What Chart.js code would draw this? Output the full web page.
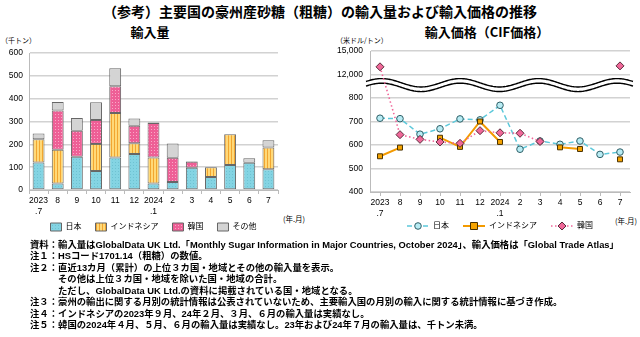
<!DOCTYPE html>
<html lang="ja">
<head>
<meta charset="utf-8">
<script src="https://cdn.jsdelivr.net/npm/chart.js@4.4.1/dist/chart.umd.min.js"></script>
<style>
  body { margin: 0; width: 640px; height: 337px; background: #fff; position: relative; overflow: hidden;
         font-family: "Noto Sans CJK JP", sans-serif; color: #000; }
  .abs { position: absolute; white-space: nowrap; }
  #title { top: 1px; left: 0; width: 640px; text-align: center; font-size: 14px; font-weight: bold; }
  .sub { top: 22px; font-size: 13px; font-weight: bold; text-align: center; }
  .unit { font-size: 7px; top: 35px; }
  .ym { font-size: 7.5px; }
  canvas { position: absolute; top: 38px; }
  .note { left: 30px; font-size: 9.35px; font-weight: bold; line-height: 12px;
          font-family: "Liberation Sans", "Noto Sans CJK JP", sans-serif; }
</style>
</head>
<body>
<div id="title" class="abs">（参考）主要国の豪州産砂糖（粗糖）の輸入量および輸入価格の推移</div>
<div class="abs sub" style="left:100px;width:100px;">輸入量</div>
<div class="abs sub" style="left:407px;width:160px;">輸入価格（CIF価格）</div>
<div class="abs unit" style="left:1px;">（千トン）</div>
<div class="abs unit" style="left:336px;">（米ドル/トン）</div>
<div class="abs ym" style="left:283px;top:213px;">(年.月)</div>
<div class="abs ym" style="left:615px;top:215px;">(年.月)</div>

<canvas id="volChart" width="320" height="203" style="left:0;"></canvas>
<canvas id="priceChart" width="320" height="202" style="left:320px;"></canvas>

<div class="abs note" style="top:238.5px;">資料：輸入量はGlobalData UK Ltd.「Monthly Sugar Information in Major Countries, October 2024」、輸入価格は「Global Trade Atlas」</div>
<div class="abs note" style="top:250px;">注１：HSコード1701.14（粗糖）の数値。</div>
<div class="abs note" style="top:261.5px;">注２：直近13カ月（累計）の上位３カ国・地域とその他の輸入量を表示。</div>
<div class="abs note" style="top:273px;left:58px;">その他は上位３カ国・地域を除いた国・地域の合計。</div>
<div class="abs note" style="top:284.5px;left:58px;">ただし、GlobalData UK Ltd.の資料に掲載されている国・地域となる。</div>
<div class="abs note" style="top:296px;">注３：豪州の輸出に関する月別の統計情報は公表されていないため、主要輸入国の月別の輸入に関する統計情報に基づき作成。</div>
<div class="abs note" style="top:307.5px;">注４：インドネシアの2023年９月、24年２月、３月、６月の輸入量は実績なし。</div>
<div class="abs note" style="top:319px;">注５：韓国の2024年４月、５月、６月の輸入量は実績なし。23年および24年７月の輸入量は、千トン未満。</div>

<script>
// months, 2023.7 - 2024.7
const months = [["2023", ".7"], "8", "9", "10", "11", "12", ["2024", ".1"], "2", "3", "4", "5", "6", "7"];

// import volume (thousand tonnes)
const volJapan = [120, 29, 146, 83, 142, 158, 28, 35, 97, 57, 110, 119, 91];
const volIndonesia = [102, 147, null, 119, 195, 47, 114, null, null, 43, 134, null, 95];
const volKorea = [null, 172, 114, 105, 117, 76, 151, 106, 27, null, null, null, null];
const volOther = [25, 37, 55, 77, 79, 32, 3, 63, 2, null, null, 20, 32];

// import price CIF (USD / tonne)
const priceJapan = [714, 712, 646, 669, 711, 707, 769, 582, 617, 603, 617, 560, 570];
const priceIndonesia = [552, 589, null, 631, 592, 700, 613, null, null, 590, 583, null, 539];
const priceKorea = [12980, 644, 624, 613, 607, 661, 652, 650, 615, null, null, null, 13100];

// broken price axis: tick values are spaced evenly
const priceTicks = [400, 500, 600, 700, 800, 12000, 15000];
const priceTickLabels = ["400", "500", "600", "700", "800", "12,000", "15,000"];

Chart.defaults.font.family = '"Liberation Sans", "Noto Sans CJK JP", sans-serif';
Chart.defaults.color = "#000";

// the x axes are kept short so the legend sits close; let the
// two-line month labels spill below the axis box
Chart.register({
  id: "unclipTicks",
  afterLayout(chart) {
    for (const s of Object.values(chart.scales)) s._computeLabelArea = () => undefined;
  },
});

function priceToAxis(v) {
  if (v == null) return null;
  for (let i = 0; i < priceTicks.length - 1; i++) {
    if (v <= priceTicks[i + 1]) return i + (v - priceTicks[i]) / (priceTicks[i + 1] - priceTicks[i]);
  }
  return priceTicks.length - 1;
}

function pattern(bg, fg, kind) {
  const c = document.createElement("canvas");
  c.width = 3; c.height = 3;
  const g = c.getContext("2d");
  g.fillStyle = bg;
  g.fillRect(0, 0, 3, 3);
  g.fillStyle = fg;
  if (kind === "stripe") g.fillRect(0, 0, 1, 3);
  if (kind === "dot") g.fillRect(1, 1, 1, 1);
  return g.createPattern(c, "repeat");
}

const fillJapan = pattern("#84D4E3", "#6EC2D2", "dot");
const fillIndonesia = pattern("#FFD978", "#F2A630", "stripe");
const fillKorea = pattern("#EE5F96", "#F9A9C8", "dot");
const fillOther = "#D4D4D4";

new Chart(document.getElementById("volChart"), {
  type: "bar",
  data: {
    labels: months,
    datasets: [
      { label: "日本", data: volJapan, backgroundColor: fillJapan },
      { label: "インドネシア", data: volIndonesia, backgroundColor: fillIndonesia },
      { label: "韓国", data: volKorea, backgroundColor: fillKorea },
      { label: "その他", data: volOther, backgroundColor: fillOther },
    ],
  },
  options: {
    responsive: false,
    animation: false,
    layout: { padding: { top: 15, right: 42, left: 0, bottom: 0 } },
    datasets: {
      bar: { borderColor: "#666", borderWidth: 1, borderSkipped: false, categoryPercentage: 0.62, barPercentage: 1 },
    },
    scales: {
      x: {
        stacked: true,
        grid: { drawOnChartArea: false, tickLength: 4, color: "#bbb" },
        border: { color: "#bbb" },
        ticks: { font: { size: 8.5 }, maxRotation: 0, autoSkip: false, padding: 2 },
        afterFit(s) { s.height = 19; },
      },
      y: {
        stacked: true,
        min: 0,
        max: 600,
        ticks: { stepSize: 100, font: { size: 8.5 }, padding: 6 },
        grid: { color: "#d2d2d2", lineWidth: 1.5, drawTicks: false },
        border: { color: "#bbb" },
        afterFit(s) { s.width = 29; },
      },
    },
    plugins: {
      legend: {
        position: "bottom",
        fullSize: false,
        labels: { boxWidth: 11, boxHeight: 8, font: { size: 8 }, padding: 14 },
      },
      tooltip: { enabled: false },
    },
  },
});

// double wavy line marking the break between 800 and 12,000
const breakMark = {
  id: "breakMark",
  beforeDatasetsDraw(chart) {
    const { ctx, chartArea, scales } = chart;
    const yc = scales.y.getPixelForValue(4.55);
    const x0 = chartArea.left - 4, x1 = chartArea.right + 3;
    const period = 78.5, amp = 4.2, gap = 4.6, phase = chartArea.left + 11.7;
    const waveY = (x, off) => yc + off - amp * Math.cos(2 * Math.PI * (x - phase) / period);
    ctx.save();
    ctx.beginPath();
    for (let x = x0; x <= x1; x++) ctx.lineTo(x, waveY(x, -gap / 2));
    for (let x = x1; x >= x0; x--) ctx.lineTo(x, waveY(x, gap / 2));
    ctx.closePath();
    ctx.fillStyle = "#fff";
    ctx.fill();
    ctx.strokeStyle = "#000";
    ctx.lineWidth = 1.4;
    for (const off of [-gap / 2, gap / 2]) {
      ctx.beginPath();
      for (let x = x0; x <= x1; x++) ctx.lineTo(x, waveY(x, off));
      ctx.stroke();
    }
    ctx.restore();
  },
};

const priceSeries = [
  { label: "日本", values: priceJapan, line: "#5CC8DA", dash: [5, 3], width: 1.5, point: "circle", radius: 3.3, fill: "#B8ECF4", edge: "#2E5E66", order: 3 },
  { label: "インドネシア", values: priceIndonesia, line: "#F39A00", dash: [], width: 2, point: "rect", radius: 3.5, fill: "#F6A400", edge: "#4A3200", order: 2 },
  { label: "韓国", values: priceKorea, line: "#F0679A", dash: [1.5, 2.5], width: 1.6, point: "rectRot", radius: 4, fill: "#F06899", edge: "#5A2A3A", order: 1 },
];

// legend swatch: short line with the marker in the middle
const swatchW = 22;
function legendSwatch(s) {
  const c = document.createElement("canvas");
  c.width = swatchW; c.height = 10;
  const g = c.getContext("2d");
  const m = swatchW / 2;
  g.strokeStyle = s.line;
  g.lineWidth = s.width;
  g.setLineDash(s.dash);
  g.beginPath(); g.moveTo(0, 5); g.lineTo(swatchW, 5); g.stroke();
  g.setLineDash([]);
  g.fillStyle = s.fill;
  g.strokeStyle = s.edge;
  g.lineWidth = 1;
  g.beginPath();
  const r = s.radius;
  if (s.point === "circle") g.arc(m, 5, r, 0, Math.PI * 2);
  else if (s.point === "rect") g.rect(m - r, 5 - r, 2 * r, 2 * r);
  else { g.moveTo(m, 5 - r); g.lineTo(m + r, 5); g.lineTo(m, 5 + r); g.lineTo(m - r, 5); g.closePath(); }
  g.fill(); g.stroke();
  return c;
}

new Chart(document.getElementById("priceChart"), {
  type: "line",
  data: {
    labels: months,
    datasets: priceSeries.map((s) => ({
      label: s.label,
      data: s.values.map(priceToAxis),
      borderColor: s.line,
      borderDash: s.dash,
      borderWidth: s.width,
      pointStyle: s.point,
      pointRadius: s.radius,
      pointBackgroundColor: s.fill,
      pointBorderColor: s.edge,
      pointBorderWidth: 1,
      order: s.order,
      tension: 0,
    })),
  },
  options: {
    responsive: false,
    animation: false,
    layout: { padding: { top: 13, right: 10, left: 0, bottom: 0 } },
    scales: {
      x: {
        offset: true,
        grid: { drawOnChartArea: false, tickLength: 4, color: "#bbb" },
        border: { color: "#bbb" },
        ticks: { font: { size: 8.5 }, maxRotation: 0, autoSkip: false, padding: 2 },
        afterFit(s) { s.height = 16; },
      },
      y: {
        min: 0,
        max: priceTicks.length - 1,
        ticks: { stepSize: 1, font: { size: 8.5 }, padding: 7, callback: (v) => priceTickLabels[v] },
        grid: { color: "#d2d2d2", lineWidth: 1.5, drawTicks: false },
        border: { color: "#bbb" },
        afterFit(s) { s.width = 50; },
      },
    },
    plugins: {
      legend: {
        position: "bottom",
        fullSize: false,
        labels: {
          usePointStyle: true,
          pointStyleWidth: swatchW,
          font: { size: 8 },
          padding: 14,
          generateLabels(chart) {
            return priceSeries.map((s, i) => ({
              text: s.label,
              pointStyle: legendSwatch(s),
              datasetIndex: i,
              hidden: false,
              fontColor: "#000",
              lineWidth: 0,
            }));
          },
        },
      },
      tooltip: { enabled: false },
    },
  },
  plugins: [breakMark],
});
</script>
</body>
</html>
